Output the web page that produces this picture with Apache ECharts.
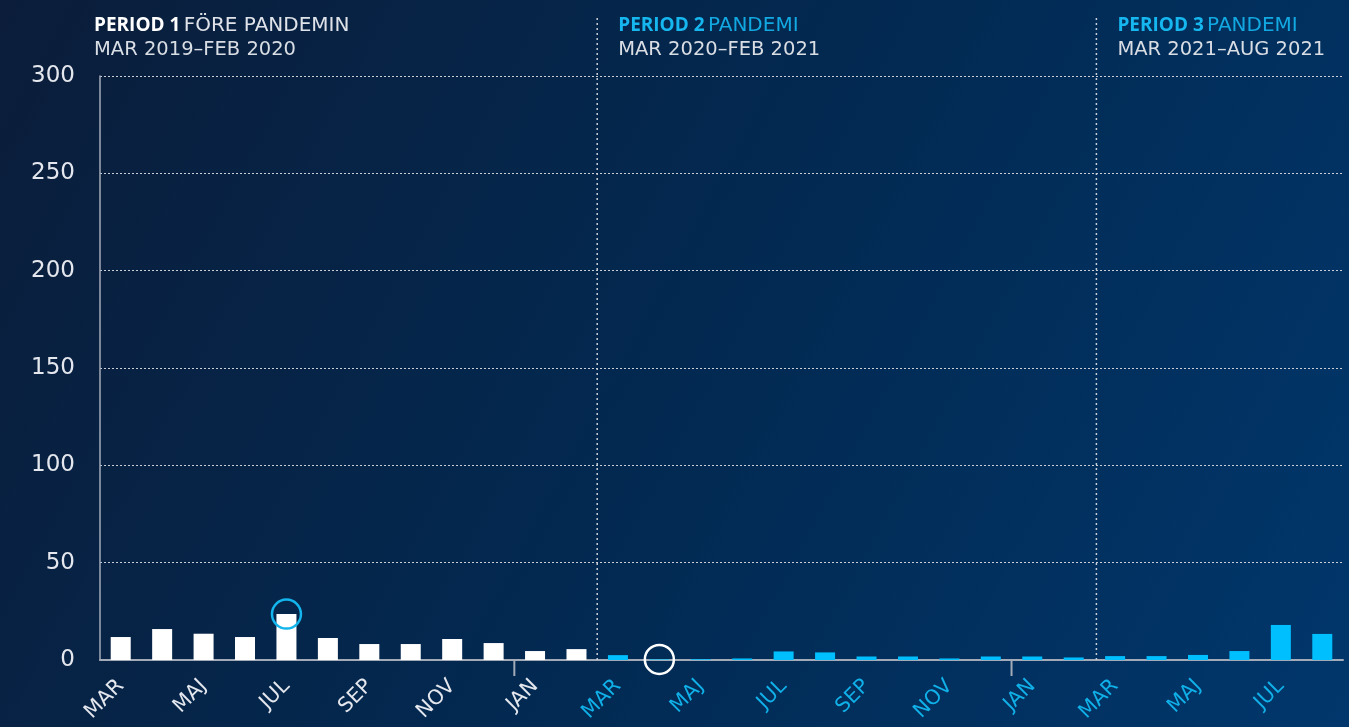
<!DOCTYPE html>
<html>
<head>
<meta charset="utf-8">
<title>Period 1 – 3</title>
<script src="https://cdn.jsdelivr.net/npm/echarts@6/dist/echarts.min.js"></script>
<style>
  html, body { margin: 0; padding: 0; background: #06213f; }
  #chart { width: 1349px; height: 727px; }
</style>
</head>
<body>
<div id="chart"></div>
<script>
// månader mars 2019 – augusti 2021
var categories = [
  'MAR 2019', 'APR 2019', 'MAJ 2019', 'JUN 2019', 'JUL 2019', 'AUG 2019',
  'SEP 2019', 'OKT 2019', 'NOV 2019', 'DEC 2019', 'JAN 2020', 'FEB 2020',
  'MAR 2020', 'APR 2020', 'MAJ 2020', 'JUN 2020', 'JUL 2020', 'AUG 2020',
  'SEP 2020', 'OKT 2020', 'NOV 2020', 'DEC 2020', 'JAN 2021', 'FEB 2021',
  'MAR 2021', 'APR 2021', 'MAJ 2021', 'JUN 2021', 'JUL 2021', 'AUG 2021'
];
// period 1 före pandemin, period 2 + 3 pandemi
var period1 = [11.8, 15.9, 13.5, 11.8, 23.6, 11.3, 8.2, 8.2, 10.8, 8.7, 4.6, 5.6];
var period2 = [2.5, 0.3, 0.4, 0.8, 4.4, 3.9, 1.8, 1.8, 0.8, 1.8, 1.8, 1.3];
var period3 = [2.0, 2.0, 2.6, 4.6, 18.0, 13.4];
var yTicks = [0, 50, 100, 150, 200, 250, 300];
// markerade månader (ringar)
var circled = [{ month: 'JUL 2019', color: '#13b5ec' }, { month: 'APR 2020', color: '#ffffff' }];

var headings = [
  { bold: 'PERIOD 1', rest: 'FÖRE PANDEMIN', range: 'MAR 2019–FEB 2020', first: 'MAR 2019' },
  { bold: 'PERIOD 2', rest: 'PANDEMI', range: 'MAR 2020–FEB 2021', first: 'MAR 2020' },
  { bold: 'PERIOD 3', rest: 'PANDEMI', range: 'MAR 2021–AUG 2021', first: 'MAR 2021' }
];

var values = period1.concat(period2, period3);
var n1 = period1.length;
var WHITE = '#ffffff';
var CYAN = '#00bfff';
var FONT = '"DejaVu Sans", "Open Sans", sans-serif';
var BOLD = '"Open Sans", "DejaVu Sans", sans-serif';

var chart = echarts.init(document.getElementById('chart'));

var option = {
  backgroundColor: new echarts.graphic.LinearGradient(0, 0, 1, 1, [
    { offset: 0, color: '#0b1d3a' },
    { offset: 0.55, color: '#022a53' },
    { offset: 1, color: '#01376c' }
  ]),
  animation: false,
  grid: { left: 100, right: 6, top: 76, bottom: 67 },
  xAxis: {
    type: 'category',
    data: categories,
    boundaryGap: true,
    axisLine: { show: true, lineStyle: { color: '#a3abb8', width: 2 } },
    axisTick: { show: false },
    splitLine: { show: false },
    axisLabel: {
      interval: 1,
      rotate: 45,
      margin: 23,
      formatter: function (val, idx) {
        var m = val.split(' ')[0];
        return idx < n1 ? '{p|' + m + '}' : '{c|' + m + '}';
      },
      rich: {
        p: { color: '#e4e7ed', fontSize: 20.5, fontFamily: FONT },
        c: { color: '#10b0e8', fontSize: 20.5, fontFamily: FONT }
      }
    }
  },
  yAxis: {
    type: 'value',
    min: yTicks[0],
    max: yTicks[yTicks.length - 1],
    interval: yTicks[1] - yTicks[0],
    axisLine: { show: true, lineStyle: { color: '#a3abb8', width: 1.5 } },
    axisTick: { show: false },
    axisLabel: { color: '#e4e7ed', fontSize: 23, fontFamily: FONT, margin: 25 },
    splitLine: { show: true, lineStyle: { color: '#c9ced7', width: 1, type: [2, 2] } }
  },
  series: [{
    type: 'bar',
    data: values,
    barWidth: 20,
    itemStyle: {
      color: function (p) { return p.dataIndex < n1 ? WHITE : CYAN; }
    },
    markPoint: {
      symbol: 'circle',
      symbolSize: 29,
      label: { show: false },
      data: circled.map(function (c) {
        var i = categories.indexOf(c.month);
        return {
          coord: [i, values[i]],
          itemStyle: { color: 'transparent', borderColor: c.color, borderWidth: 2.5 }
        };
      })
    }
  }]
};

chart.setOption(option);

// avdelare, årsmarkeringar och rubriker, placerade via axlarnas skala
function xOf(i) { return chart.convertToPixel({ xAxisIndex: 0 }, i); }
var y0 = chart.convertToPixel({ yAxisIndex: 0 }, 0);
var band = xOf(1) - xOf(0);
var graphics = [];

headings.forEach(function (h, k) {
  var i = categories.indexOf(h.first);
  var left = xOf(i) - band / 2;
  if (k > 0) {
    graphics.push({
      type: 'line',
      shape: { x1: left + 2 * (k - 1), y1: 18, x2: left + 2 * (k - 1), y2: y0 },
      style: { stroke: '#c9ced7', lineWidth: 1.5, lineDash: [2, 3] },
      z: 5
    });
  }
  var hc = k === 0 ? WHITE : '#16b6ef';
  graphics.push({
    type: 'text',
    x: k === 0 ? left - 6 : left + 21 + 2 * (k - 1),
    y: 14,
    style: {
      text: '{b|' + h.bold + '} {r|' + h.rest + '}\n{d|' + h.range + '}',
      rich: {
        b: { fill: hc, fontSize: 19, fontWeight: 'bold', fontFamily: BOLD, lineHeight: 24 },
        r: { fill: k === 0 ? '#dfe3e9' : '#12a9e2', fontSize: 20, fontFamily: FONT, lineHeight: 24 },
        d: { fill: '#d9dde4', fontSize: 19.5, fontFamily: FONT, lineHeight: 24 }
      }
    },
    z: 5
  });
});

// årsskifte dec/jan
['JAN 2020', 'JAN 2021'].forEach(function (m) {
  var x = xOf(categories.indexOf(m)) - band / 2;
  graphics.push({
    type: 'line',
    shape: { x1: x, y1: y0, x2: x, y2: y0 + 16 },
    style: { stroke: '#a3abb8', lineWidth: 2 },
    z: 5
  });
});

chart.setOption({ graphic: graphics });
</script>
</body>
</html>
